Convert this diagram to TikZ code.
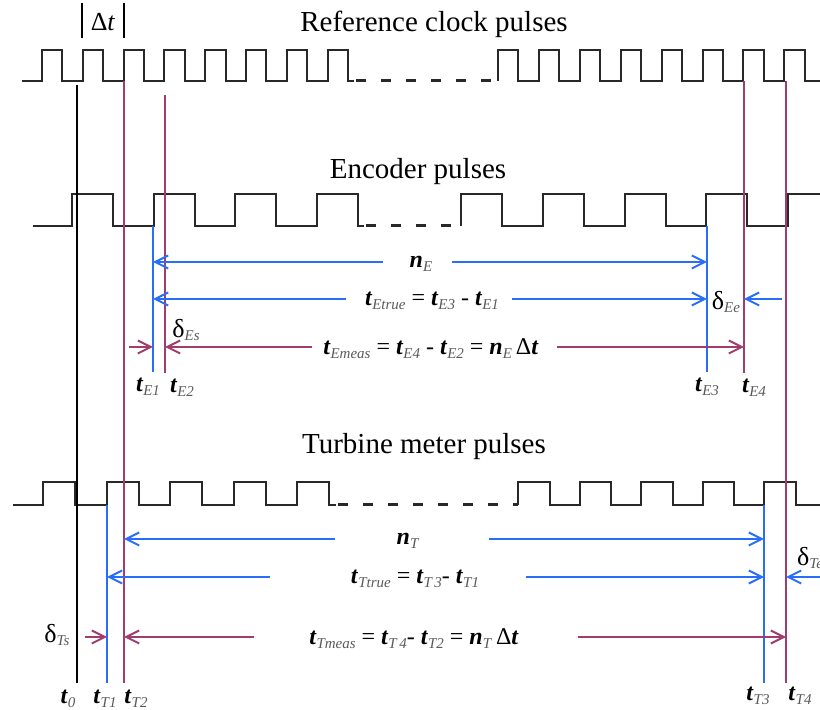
\documentclass[tikz,border=0pt]{standalone}
\usepackage{fontspec}
\setmainfont{Liberation Serif}
\usetikzlibrary{positioning,arrows.meta}
\definecolor{wavegray}{RGB}{40,40,40}
\definecolor{trueblue}{RGB}{40,110,250}
\definecolor{measmag}{RGB}{160,60,110}
\definecolor{subgray}{RGB}{90,90,90}

\newcommand{\subtxt}[1]{\raisebox{-0.35ex}{\fontsize{7.5}{8}\selectfont\textcolor{subgray}{\textit{#1}}}}
\newcommand{\tvar}[2]{\textbf{\textit{#1}}\subtxt{#2}}
\newcommand{\dvar}[1]{{\fontsize{13}{15}\selectfont δ}\subtxt{#1}}

\begin{document}
\begin{tikzpicture}[
  x=0.5pt, y=-0.5pt,
  wave/.style={draw=wavegray, line width=1pt, line join=miter},
  gapline/.style={draw=wavegray, line width=1.5pt, dash pattern=on 5pt off 7.5pt},
  kline/.style={draw=black, line width=1pt},
  bline/.style={draw=trueblue, line width=1pt},
  mline/.style={draw=measmag, line width=1pt},
  barr/.style={bline, -{Straight Barb[length=6.5pt,width=6.5pt]}},
  marr/.style={mline, -{Straight Barb[length=6.5pt,width=6.5pt]}},
  title/.style={font=\fontsize{14.5}{17}\selectfont, inner sep=0pt},
  lab/.style={font=\fontsize{12}{14}\selectfont, inner sep=0pt},
]
\useasboundingbox (0,0) rectangle (820,710);

% ---- Titles ----
\node[title] (clk)  at (434,24)  {Reference clock pulses};
\node[title] (enc)  at (418,172) {Encoder pulses};
\node[title] (turb) at (424,447) {Turbine meter pulses};

% ---- Clock period marker ----
\coordinate (dtl) at (82,3);   \coordinate (dtlb) at (82,38);
\coordinate (dtr) at (124,3);  \coordinate (dtrb) at (124,38);
\draw[kline] (dtl) -- (dtlb);
\draw[kline] (dtr) -- (dtrb);
\node[lab, font=\fontsize{13}{15}\selectfont] (dt) at (103,22) {Δ\textit{t}};

% ---- Pulse trains ----
\draw[wave] (22,81) \foreach \k in {0,...,7}{
  -- ({42+40.8*\k},81) -- ++(0,-31) -- ++(20.4,0) -- ++(0,31)} -- (354,81);
\draw[gapline] (356,81) -- (498,81);
\draw[wave] (498,81) \foreach \k in {0,...,7}{
  -- ({498+40.9*\k},81) -- ++(0,-31) -- ++(20.4,0) -- ++(0,31)} -- (822,81);

\draw[wave] (33,226) \foreach \k in {0,...,3}{
  -- ({72+81.7*\k},226) -- ++(0,-32) -- ++(41,0) -- ++(0,32)} -- (364,226);
\draw[gapline] (366,226) -- (461,226);
\draw[wave] (461,226) \foreach \k in {0,...,3}{
  -- ({461+81.75*\k},226) -- ++(0,-32) -- ++(41,0) -- ++(0,32)}
  -- (788,226) -- (788,194) -- (822,194);

\draw[wave] (13,505) \foreach \k in {0,...,4}{
  -- ({43+63.5*\k},505) -- ++(0,-23) -- ++(32,0) -- ++(0,23)} -- (336,505);
\draw[gapline] (338,505) -- (518,505);
\draw[wave] (518,505) \foreach \k in {0,...,4}{
  -- ({518+61.5*\k},505) -- ++(0,-23) -- ++(31.5,0) -- ++(0,23)} -- (822,505);

% ---- Time instants ----
\coordinate (t0)  at (77,85);   \coordinate (t0b)  at (77,683);
\coordinate (tT1) at (107,505); \coordinate (tT1b) at (107,683);
\coordinate (tT2) at (124,81);  \coordinate (tT2b) at (124,683);
\coordinate (tE1) at (153,226); \coordinate (tE1b) at (153,372);
\coordinate (tE2) at (165,95);  \coordinate (tE2b) at (165,373);
\coordinate (tE3) at (707,226); \coordinate (tE3b) at (707,372);
\coordinate (tE4) at (744,81);  \coordinate (tE4b) at (744,373);
\coordinate (tT3) at (764,505); \coordinate (tT3b) at (764,683);
\coordinate (tT4) at (786,81);  \coordinate (tT4b) at (786,683);

\draw[kline] (t0) -- (t0b);
\foreach \a in {tT1, tE1, tE3, tT3}
  \draw[bline] (\a) -- (\a b);
\foreach \a in {tT2, tE2, tE4, tT4}
  \draw[mline] (\a) -- (\a b);

\node[lab, below=3pt of tE1b, xshift=-2.5pt] (ltE1) {\tvar{t}{E1}};
\node[lab, below=3pt of tE2b, xshift=8.5pt]  (ltE2) {\tvar{t}{E2}};
\node[lab, below=3pt of tE3b, xshift=0pt]    (ltE3) {\tvar{t}{E3}};
\node[lab, below=3pt of tE4b, xshift=5pt]    (ltE4) {\tvar{t}{E4}};

\node[lab, below=3.5pt of t0b,  xshift=-4.5pt] (lt0)  {\tvar{t}{0}};
\node[lab, below=3.5pt of tT1b, xshift=-1pt]   (ltT1) {\tvar{t}{T1}};
\node[lab, below=3.5pt of tT2b, xshift=6pt]    (ltT2) {\tvar{t}{T2}};
\node[lab, below=2pt of tT3b, xshift=-3pt]     (ltT3) {\tvar{t}{T3}};
\node[lab, below=2pt of tT4b, xshift=7pt]      (ltT4) {\tvar{t}{T4}};

% ---- Encoder intervals ----
\node[lab] (nE) at (421,264) {\tvar{n}{E}};
\coordinate (nEl) at (383,262);  \coordinate (nEr) at (452,262);
\draw[barr] (nEl) -- (tE1 |- nEl);
\draw[barr] (nEr) -- (tE3 |- nEr);

\node[lab] (Etrue) at (432,301) {\tvar{t}{Etrue} = \tvar{t}{E3} - \tvar{t}{E1}};
\coordinate (Etl) at (346,299);  \coordinate (Etr) at (512,299);
\draw[barr] (Etl) -- (tE1 |- Etl);
\draw[barr] (Etr) -- (tE3 |- Etr);
\node[lab] (dEe) at (726,302) {\dvar{Ee}};
\coordinate (dEer) at (782,299);
\draw[barr] (dEer) -- (tE4 |- dEer);

\node[lab] (Emeas) at (431,349) {\tvar{t}{Emeas} = \tvar{t}{E4} - \tvar{t}{E2} = \tvar{n}{E}\,Δ\textbf{\textit{t}}};
\coordinate (Eml) at (312,347);  \coordinate (Emr) at (557,347);
\draw[marr] (Eml) -- (tE2 |- Eml);
\draw[marr] (Emr) -- (tE4 |- Emr);
\node[lab] (dEs) at (186,330) {\dvar{Es}};
\coordinate (dEsl) at (129,347);
\draw[marr] (dEsl) -- (tE1 |- dEsl);

% ---- Turbine intervals ----
\node[lab] (nT) at (408,541) {\tvar{n}{T}};
\coordinate (nTl) at (335,539);  \coordinate (nTr) at (489,539);
\draw[barr] (nTl) -- (tT2 |- nTl);
\draw[barr] (nTr) -- (tT3 |- nTr);

\node[lab] (Ttrue) at (415,579) {\tvar{t}{Ttrue} = \tvar{t}{T\,3}- \tvar{t}{T1}};
\coordinate (Ttl) at (270,577);  \coordinate (Ttr) at (526,577);
\draw[barr] (Ttl) -- (tT1 |- Ttl);
\draw[barr] (Ttr) -- (tT3 |- Ttr);
\node[lab] (dTe) at (810,558) {\dvar{Te}};
\coordinate (dTer) at (822,577);
\draw[barr] (dTer) -- (tT4 |- dTer);

\node[lab] (Tmeas) at (414,639) {\tvar{t}{Tmeas} = \tvar{t}{T\,4}- \tvar{t}{T2} = \tvar{n}{T}\,Δ\textbf{\textit{t}}};
\coordinate (Tml) at (254,637);  \coordinate (Tmr) at (578,637);
\draw[marr] (Tml) -- (tT2 |- Tml);
\draw[marr] (Tmr) -- (tT4 |- Tmr);
\node[lab] (dTs) at (57,635) {\dvar{Ts}};
\coordinate (dTsl) at (85,637);
\draw[marr] (dTsl) -- (tT1 |- dTsl);

\end{tikzpicture}
\end{document}
